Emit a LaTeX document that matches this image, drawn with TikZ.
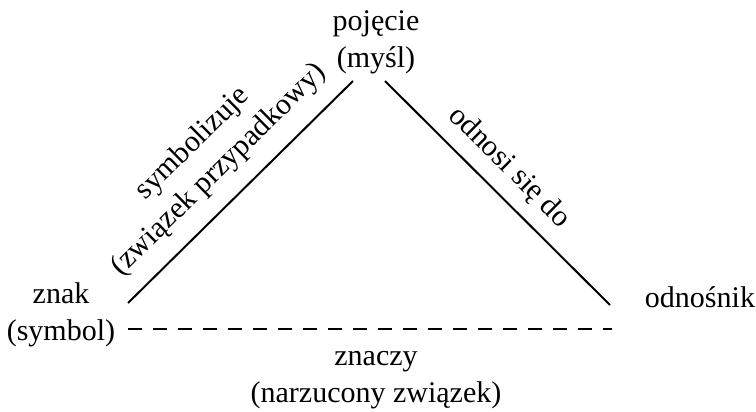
\documentclass[tikz,border=0pt]{standalone}
\usepackage{fontspec}
\setmainfont{Liberation Serif}
\begin{document}
\begin{tikzpicture}[
    x=0.5pt,
    y=-0.5pt,
    term/.style={
        align=center,
        inner sep=0pt,
        font=\fontsize{15}{18.5}\selectfont
    },
    lbl/.style={term, sloped},
    edge/.style={line width=1pt},
    link/.style={edge, dash pattern=on 7pt off 5.5pt}
]
\useasboundingbox (0,0) rectangle (756,412);

% Nodes
\node[term] (pojecie) at (376,42) {pojęcie\\(myśl)};

\node[term] (znak) at (61,315) {znak\\(symbol)};

\node[term] (odnosnik) at (700,297) {odnośnik};

\node[term] (znaczy) at (376,380) {znaczy\\(narzucony związek)};

% Corners
\coordinate (znakA) at (128,303);
\coordinate (znakB) at (128,329);
\coordinate (pojL) at (353,81);
\coordinate (pojR) at (385,81);
\coordinate (odnA) at (610,305);
\coordinate (odnB) at (612,329);

% Arrows
\draw[edge] (znakA) -- node[lbl, above=8pt] (symb) {symbolizuje\\(związek przypadkowy)} (pojL);
\draw[edge] (pojR) -- node[lbl, above=6pt, pos=0.47] (odnosi) {odnosi się do} (odnA);
\draw[link] (znakB) -- (odnB);

\end{tikzpicture}
\end{document}
